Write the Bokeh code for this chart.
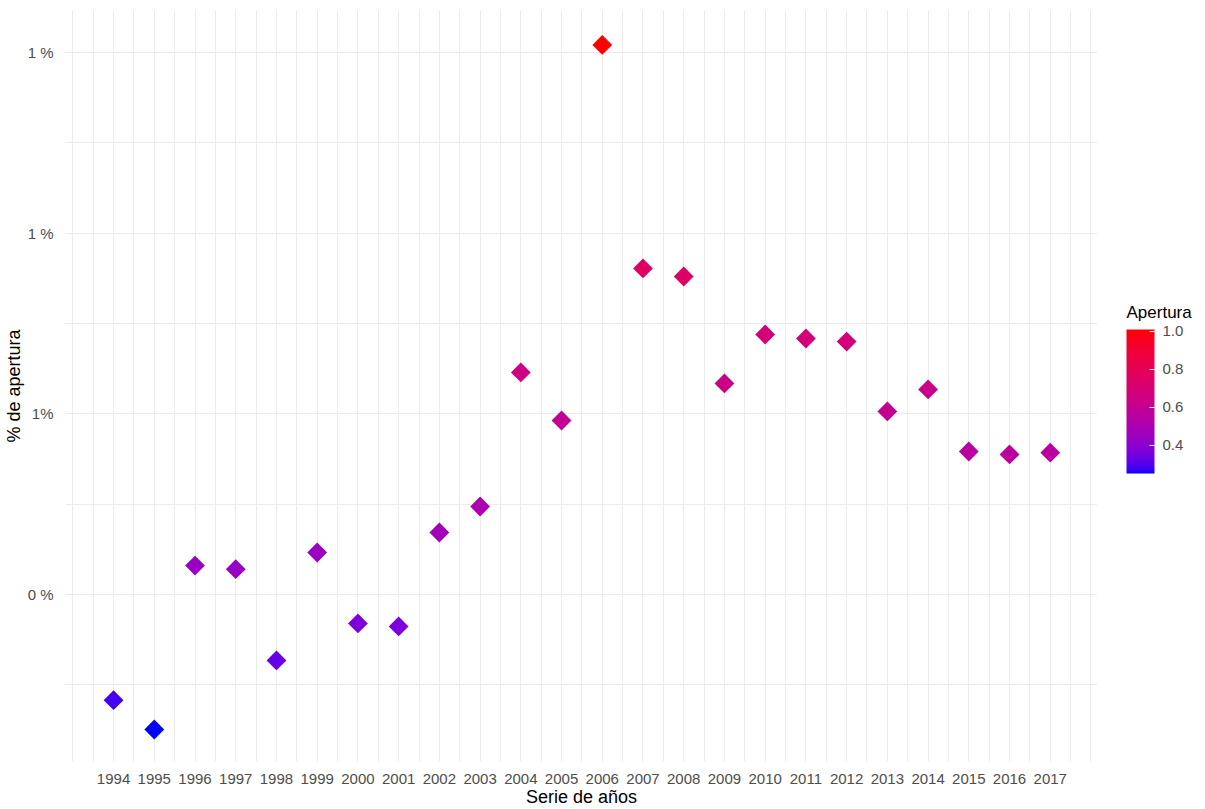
import math
from bokeh.plotting import figure
from bokeh.layouts import row
from bokeh.models import (LinearColorMapper, ColorBar, FixedTicker, PrintfTickFormatter,
                          ColumnDataSource, Range1d, Label)
from bokeh.embed import file_html
from bokeh.resources import INLINE

# ---- data ----
years = list(range(1994, 2018))
apertura = [0.283, 0.2505, 0.432, 0.428, 0.327, 0.4465, 0.368, 0.3646, 0.4686, 0.4974,
            0.6458, 0.5926, 1.0084, 0.761, 0.752, 0.6336, 0.6878, 0.6834, 0.680, 0.6026,
            0.627, 0.5583, 0.555, 0.557]
x_tick_values = years
y_tick_values = [0.4, 0.6, 0.8, 1.0]
y_tick_labels = ["0 %", "1%", "1 %", "1 %"]
legend_title = "Apertura"
legend_ticks = [0.4, 0.6, 0.8, 1.0]
x_grid_values = [1993 + 0.5 * i for i in range(51)]
y_grid_values = [0.3, 0.4, 0.5, 0.6, 0.7, 0.8, 0.9, 1.0]

# ---- Lab gradient blue -> red (like ggplot scale_colour_gradient) ----
def srgb_to_lin(c):
    c = c / 255.0
    return c / 12.92 if c <= 0.04045 else ((c + 0.055) / 1.055) ** 2.4

def lin_to_srgb(c):
    c = 12.92 * c if c <= 0.0031308 else 1.055 * (c ** (1 / 2.4)) - 0.055
    return max(0, min(255, round(c * 255)))

Xn, Yn, Zn = 0.95047, 1.0, 1.08883

def f(t):
    return t ** (1 / 3) if t > (6 / 29) ** 3 else t / (3 * (6 / 29) ** 2) + 4 / 29

def finv(t):
    return t ** 3 if t > 6 / 29 else 3 * (6 / 29) ** 2 * (t - 4 / 29)

def rgb_to_lab(rgb):
    r, g, b = [srgb_to_lin(v) for v in rgb]
    X = 0.4124 * r + 0.3576 * g + 0.1805 * b
    Y = 0.2126 * r + 0.7152 * g + 0.0722 * b
    Z = 0.0193 * r + 0.1192 * g + 0.9505 * b
    fx, fy, fz = f(X / Xn), f(Y / Yn), f(Z / Zn)
    return (116 * fy - 16, 500 * (fx - fy), 200 * (fy - fz))

def lab_to_hex(lab):
    L, a, b = lab
    fy = (L + 16) / 116
    fx = fy + a / 500
    fz = fy - b / 200
    X, Y, Z = Xn * finv(fx), Yn * finv(fy), Zn * finv(fz)
    r = 3.2406 * X - 1.5372 * Y - 0.4986 * Z
    g = -0.9689 * X + 1.8758 * Y + 0.0415 * Z
    bb = 0.0557 * X - 0.2040 * Y + 1.0570 * Z
    return "#%02x%02x%02x" % tuple(lin_to_srgb(max(0.0, min(1.0, v))) for v in (r, g, bb))

lo, hi = rgb_to_lab((0, 0, 255)), rgb_to_lab((255, 0, 0))
palette = [lab_to_hex(tuple(lo[k] + (hi[k] - lo[k]) * i / 255 for k in range(3))) for i in range(256)]

mapper = LinearColorMapper(palette=palette, low=min(apertura), high=max(apertura))

src = ColumnDataSource(dict(year=years, apertura=apertura))

FONT = "Liberation Sans"

# ---- main panel ----
p = figure(width=1097, height=809, x_range=Range1d(1992.82, 2018.16),
           y_range=Range1d(0.2151, 1.0465), output_backend="svg", toolbar_location=None,
           min_border_left=65, min_border_right=0, min_border_top=10, min_border_bottom=48)
p.outline_line_color = None
p.background_fill_color = "white"

p.scatter(x="year", y="apertura", source=src, marker="square", angle=math.pi / 4, size=14,
          fill_color={"field": "apertura", "transform": mapper}, line_color=None)

p.xaxis.ticker = FixedTicker(ticks=x_tick_values)
p.yaxis.ticker = FixedTicker(ticks=y_tick_values)
p.yaxis.major_label_overrides = {v: t for v, t in zip(y_tick_values, y_tick_labels)}
p.xgrid.ticker = FixedTicker(ticks=x_grid_values)
p.ygrid.ticker = FixedTicker(ticks=y_grid_values)
for g in (p.xgrid, p.ygrid):
    g.grid_line_color = "#EBEBEB"
    g.grid_line_width = 1

for ax in (p.xaxis, p.yaxis):
    ax.axis_line_color = None
    ax.major_tick_line_color = None
    ax.minor_tick_line_color = None
    ax.major_label_text_font = FONT
    ax.major_label_text_font_size = "15px"
    ax.major_label_text_color = "#4D4D4D"
    ax.axis_label_text_font = FONT
    ax.axis_label_text_font_size = "18px"
    ax.axis_label_text_font_style = "normal"
    ax.axis_label_text_color = "black"

p.xaxis.axis_label = "Serie de años"
p.yaxis.axis_label = "% de apertura"
p.xaxis.major_label_standoff = 6
p.xaxis.axis_label_standoff = 0
p.yaxis.major_label_standoff = 6
p.yaxis.axis_label_standoff = 1

# ---- legend panel (frame is aligned with the main frame: 103 x 751 px) ----
leg = figure(width=103, height=809, x_range=Range1d(0, 103), y_range=Range1d(0, 751),
             output_backend="svg", toolbar_location=None,
             x_axis_location=None, y_axis_location=None,
             min_border_left=0, min_border_right=0, min_border_top=0, min_border_bottom=0)
leg.outline_line_color = None
leg.xgrid.visible = False
leg.ygrid.visible = False

cb = ColorBar(color_mapper=mapper, ticker=FixedTicker(ticks=legend_ticks),
              formatter=PrintfTickFormatter(format="%.1f"), width=28, height=144,
              location=(29, 288), padding=0, title=None,
              major_label_text_font=FONT, major_label_text_font_size="15px",
              major_label_text_color="#4D4D4D", label_standoff=8,
              major_tick_line_color="white", major_tick_in=5, major_tick_out=0,
              bar_line_color=None, border_line_color=None, background_fill_alpha=0)
leg.add_layout(cb, "center")

leg.add_layout(Label(x=29, y=449, text=legend_title,
                     text_font=FONT, text_font_size="17px", text_color="black",
                     text_baseline="alphabetic", text_align="left"))

layout = row(p, leg)
open("out.html", "w").write(file_html(layout, INLINE))
